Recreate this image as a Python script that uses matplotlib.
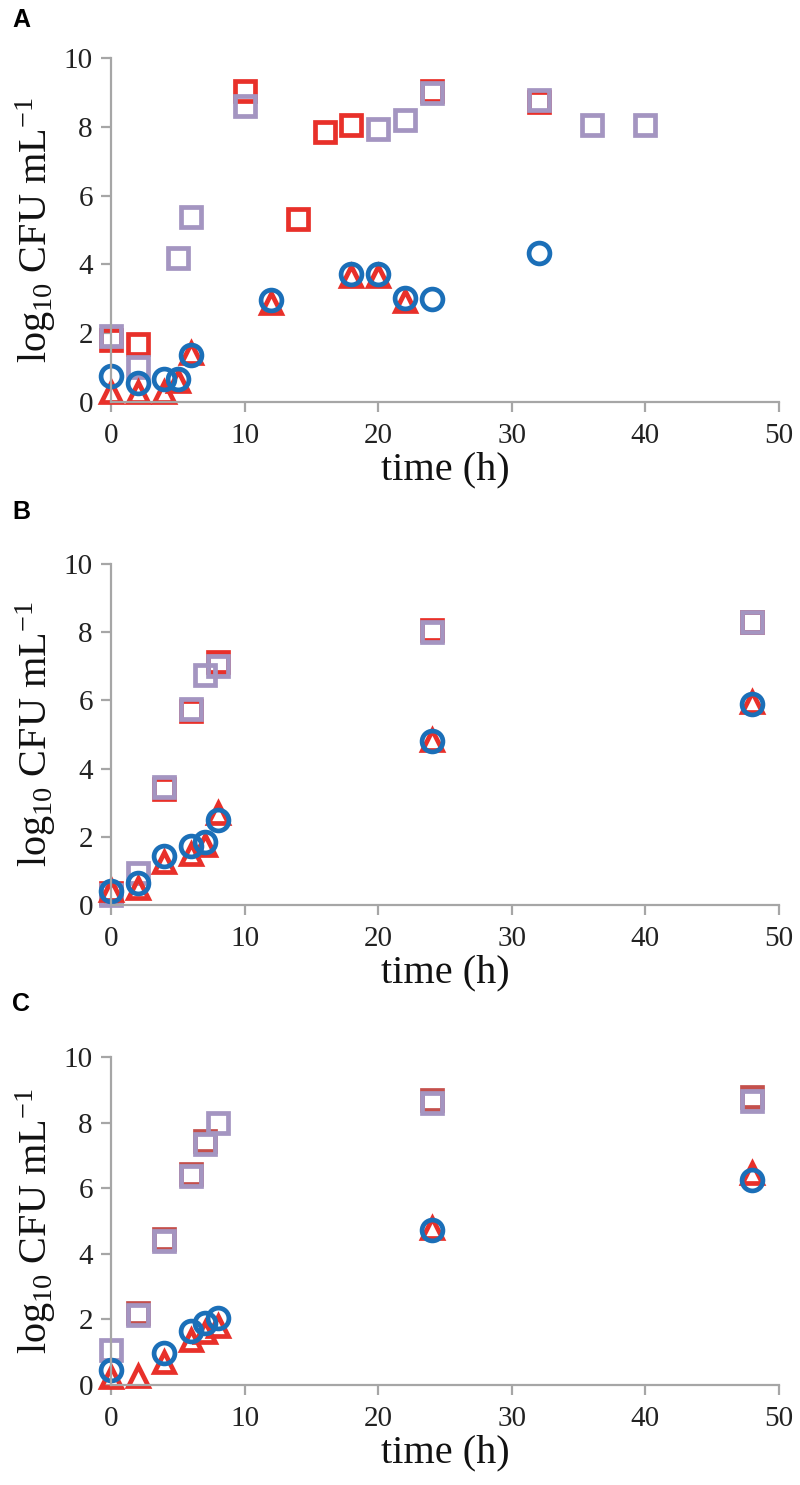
import matplotlib
matplotlib.use("Agg")
import matplotlib.pyplot as plt

# ---------------- data ----------------
# Panel A
tri_A_x = [0, 2, 4, 5, 6, 12, 18, 20, 22]
tri_A_y = [0.28, 0.28, 0.28, 0.60, 1.43, 2.88, 3.65, 3.65, 2.95]
circ_A_x = [0, 2, 4, 5, 6, 12, 18, 20, 22, 24, 32]
circ_A_y = [0.77, 0.55, 0.67, 0.67, 1.37, 2.96, 3.71, 3.71, 3.03, 2.99, 4.32]
redsq_A_x = [0, 2, 10, 14, 16, 18, 24, 32]
redsq_A_y = [1.80, 1.68, 9.03, 5.32, 7.84, 8.06, 9.04, 8.73]
purp_A_x = [0, 2, 5, 6, 10, 20, 22, 24, 32, 36, 40]
purp_A_y = [1.93, 1.03, 4.18, 5.39, 8.60, 7.94, 8.21, 8.98, 8.78, 8.04, 8.04]

# Panel B
tri_B_x = [0, 2, 4, 6, 7, 8, 24, 48]
tri_B_y = [0.45, 0.50, 1.27, 1.50, 1.75, 2.70, 4.85, 5.95]
circ_B_x = [0, 2, 4, 6, 7, 8, 24, 48]
circ_B_y = [0.40, 0.64, 1.45, 1.73, 1.86, 2.49, 4.80, 5.90]
redsq_B_x = [0, 4, 6, 8, 24, 48]
redsq_B_y = [0.35, 3.39, 5.68, 7.12, 8.05, 8.30]
purp_B_x = [0, 2, 4, 6, 7, 8, 24, 48]
purp_B_y = [0.29, 0.93, 3.46, 5.75, 6.75, 7.02, 8.00, 8.30]

# Panel C
tri_C_x = [0, 2, 4, 6, 7, 8, 24, 48]
tri_C_y = [0.25, 0.26, 0.71, 1.38, 1.63, 1.79, 4.78, 6.47]
circ_C_x = [0, 4, 6, 7, 8, 24, 48]
circ_C_y = [0.46, 0.97, 1.65, 1.89, 2.04, 4.74, 6.24]
redsq_C_x = [2, 4, 6, 7, 24, 48]
redsq_C_y = [2.20, 4.44, 6.43, 7.45, 8.70, 8.77]
purp_C_x = [0, 2, 4, 6, 7, 8, 24, 48]
purp_C_y = [1.07, 2.14, 4.39, 6.38, 7.35, 8.00, 8.61, 8.66]

panel_labels = ["A", "B", "C"]
x_ticks = [0, 10, 20, 30, 40, 50]
y_ticks = [0, 2, 4, 6, 8, 10]

# ---------------- style ----------------
RED = "#E8302A"
DARKRED = "#C4504C"
BLUE = "#1B6FB8"
PURPLE = "#A495C1"
GRAY = "#A6A6A6"

plt.rcParams["font.family"] = ["Liberation Serif", "DejaVu Serif"]
plt.rcParams["mathtext.fontset"] = "custom"
plt.rcParams["mathtext.rm"] = "Liberation Serif"
plt.rcParams["mathtext.it"] = "Liberation Serif:italic"
plt.rcParams["mathtext.bf"] = "Liberation Serif:bold"

W, H = 800, 1485
fig = plt.figure(figsize=(W / 100, H / 100), dpi=100)

# axes rectangles in pixels: (left, x-axis y from top, top y from top)
rects = [(111, 402, 58), (111, 905, 564), (111, 1385, 1057)]
letter_y = [20, 512, 1004]

panels = [
    (tri_A_x, tri_A_y, circ_A_x, circ_A_y, redsq_A_x, redsq_A_y, purp_A_x, purp_A_y, RED),
    (tri_B_x, tri_B_y, circ_B_x, circ_B_y, redsq_B_x, redsq_B_y, purp_B_x, purp_B_y, RED),
    (tri_C_x, tri_C_y, circ_C_x, circ_C_y, redsq_C_x, redsq_C_y, purp_C_x, purp_C_y, DARKRED),
]

MS = 15
MEW = 3.4
for i, ((l, b, t), data) in enumerate(zip(rects, panels)):
    tx, ty, cx, cy, rx, ry, px, py, sqred = data
    ax = fig.add_axes([l / W, (H - b) / H, (779 - l) / W, (b - t) / H])
    ax.plot(rx, ry, linestyle="none", marker="s", ms=MS, mfc="none",
            mec=sqred, mew=MEW, clip_on=False)
    ax.plot(px, py, linestyle="none", marker="s", ms=MS, mfc="none",
            mec=PURPLE, mew=MEW, clip_on=False)
    ax.plot(tx, ty, linestyle="none", marker="^", ms=MS - 1, mfc="none",
            mec=RED, mew=MEW, clip_on=False)
    ax.plot(cx, cy, linestyle="none", marker="o", ms=MS, mfc="none",
            mec=BLUE, mew=MEW, clip_on=False)

    ax.set_xlim(0, 50)
    ax.set_ylim(0, 10)
    ax.set_xticks(x_ticks)
    ax.set_yticks(y_ticks)
    for s in ["top", "right"]:
        ax.spines[s].set_visible(False)
    for s in ["left", "bottom"]:
        ax.spines[s].set_color(GRAY)
        ax.spines[s].set_linewidth(1.6)
    ax.tick_params(direction="out", length=7, width=1.6, color=GRAY,
                   labelsize=21, labelcolor="#222222")
    ax.tick_params(axis="y", pad=6)
    ax.tick_params(axis="x", pad=8)
    ax.set_xlabel("time (h)", fontsize=29, color="#111111", labelpad=2)
    ax.set_ylabel(r"log$_{10}$ CFU mL$^{-1}$", fontsize=29, color="#111111",
                  labelpad=4)
    ax.patch.set_visible(False)

    fig.text(12 / W, 1 - letter_y[i] / H, panel_labels[i], fontsize=18,
             fontweight="bold", family="Liberation Sans", va="center", ha="left")

fig.savefig("out.png", dpi=100)
